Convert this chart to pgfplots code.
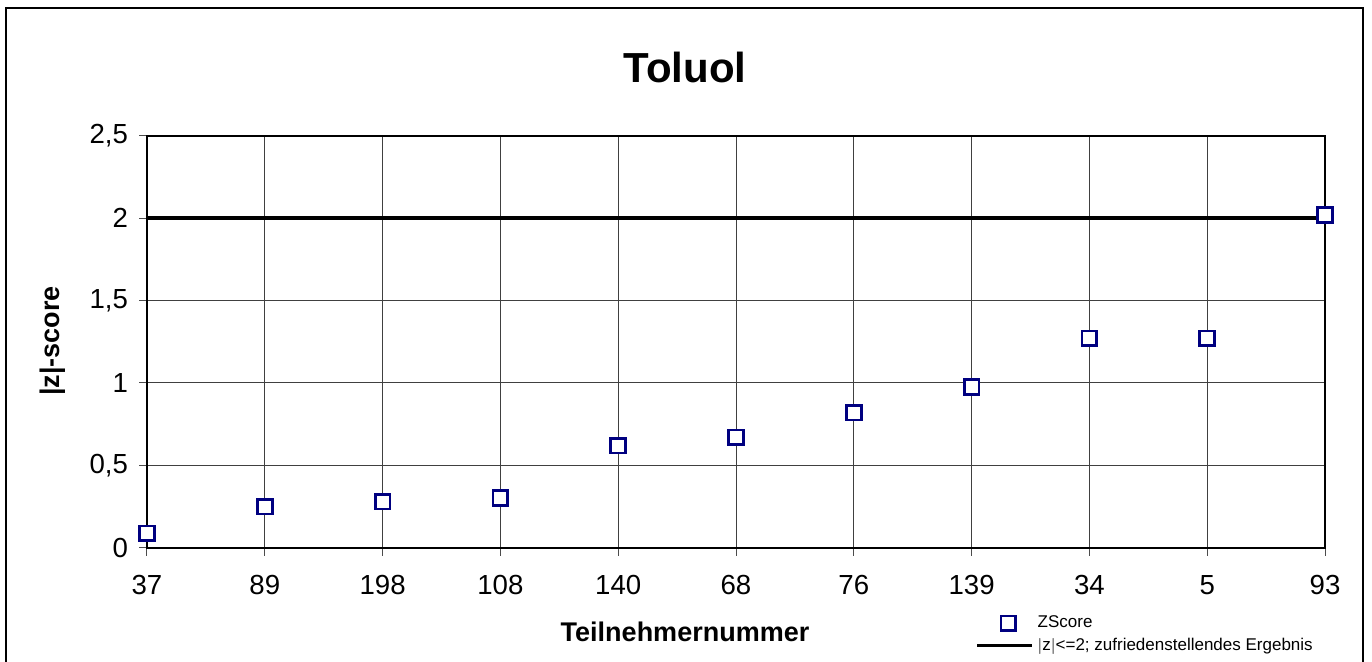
\documentclass[border=0pt]{standalone}
\usepackage{fontspec}
\setmainfont{Liberation Sans}
\usepackage{pgfplots}
\pgfplotsset{compat=1.18}
\definecolor{navy}{RGB}{0,0,128}
\begin{document}
\begin{tikzpicture}[x=0.5pt,y=0.5pt]
\useasboundingbox (-147,-114.3) rectangle (1225,547.7);
\begin{axis}[
  at={(0,0)}, anchor=south west,
  scale only axis,
  width=589pt, height=205.9pt,
  xmin=0, xmax=10, ymin=0, ymax=2.5,
  xtick={0,...,10},
  xticklabels={37,89,198,108,140,68,76,139,34,5,93},
  ytick={0,0.5,1,1.5,2,2.5},
  yticklabels={0,{0,5},1,{1,5},2,{2,5}},
  tick align=outside,
  major tick length=4pt,
  tick style={black!70, line width=0.5pt},
  xtick pos=bottom, ytick pos=left,
  grid=major,
  major grid style={black!75, line width=0.5pt},
  axis line style={black, line width=1pt},
  ticklabel style={font=\fontsize{13.8}{16}\selectfont},
  xticklabel style={yshift=-6pt, text height=10pt, text depth=0pt},
  yticklabel style={xshift=-2pt},
  clip=false,
  legend style={at={(0.703,-0.155)}, anchor=north west, draw=none, fill=none,
    font=\fontsize{8.5}{11.5}\selectfont, row sep=-0.5pt, inner sep=0pt},
  legend cell align=left,
]
\addplot[black, line width=2pt, forget plot] coordinates {(0,2) (10,2)};
\addplot[only marks, mark=square*, mark size=3.7pt, mark options={draw=navy, line width=1.4pt, fill=white}]
 coordinates {(0,0.087) (1,0.25) (2,0.28) (3,0.30) (4,0.62) (5,0.67) (6,0.82) (7,0.975) (8,1.27) (9,1.27) (10,2.02)};
\addlegendentry{ZScore}
\addlegendimage{black, line width=2pt, legend image code/.code={\draw[black,line width=1.5pt] (-0.25cm,0) -- (0.72cm,0);}}
\addlegendentry{$|$z$|$<=2; zufriedenstellendes Ergebnis}
\end{axis}
% frame
\draw[line width=0.8pt, black] (-141,-130) -- (-141,539.7) -- (1216,539.7) -- (1216,-130);
% title
\node[font=\bfseries\fontsize{21}{24}\selectfont] at (538,480) {Toluol};
\node[font=\bfseries\fontsize{13.5}{15}\selectfont] at (538,-84) {Teilnehmernummer};
\node[font=\bfseries\fontsize{13.5}{15}\selectfont, rotate=90] at (-94,206.7) {|z|-score};
\end{tikzpicture}
\end{document}
